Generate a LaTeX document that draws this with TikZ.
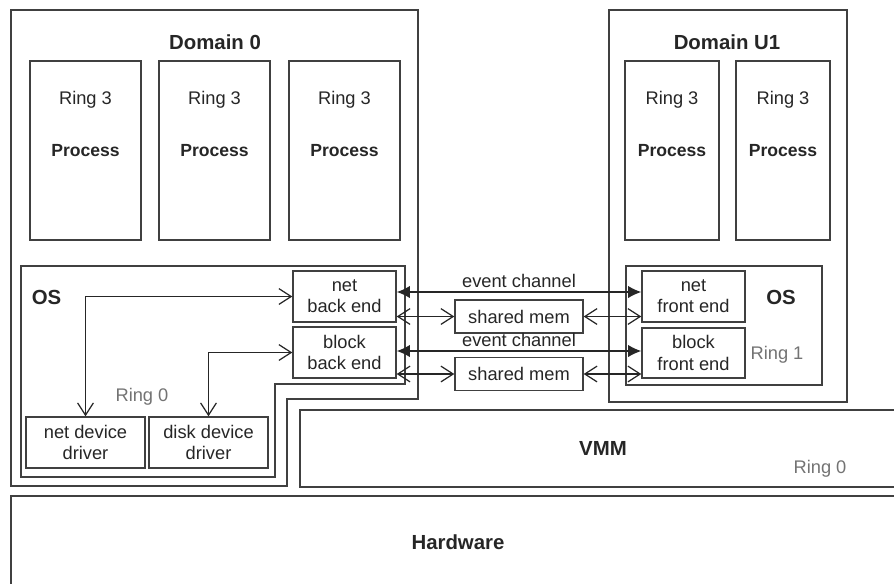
\documentclass[tikz,border=0pt]{standalone}
\usepackage{fontspec}
\setmainfont{Liberation Sans}
\usetikzlibrary{arrows.meta}

\tikzset{
  frame/.style={draw=black!75, line width=0.8pt},
  wh/.style 2 args={minimum width=#1*0.02cm, minimum height=#2*0.02cm},
  txt/.style={font=\fontsize{10.4}{12}\selectfont, text=black!85},
  box/.style={frame, txt, align=center, inner sep=0pt},
  heading/.style={font=\fontsize{11.6}{13}\selectfont\bfseries, text=black!85},
  procname/.style={font=\fontsize{10}{12}\selectfont\bfseries, text=black!85},
  ringgray/.style={font=\fontsize{10.4}{12}\selectfont, text=black!55},
  barb/.style={draw=black!85, line width=0.7pt,
    {Straight Barb[length=7pt,width=9pt]}-{Straight Barb[length=7pt,width=9pt]}},
  evarrow/.style={draw=black!85, line width=0.7pt,
    {Latex[length=7.5pt,width=7pt]}-{Latex[length=7.5pt,width=7pt]}},
}

\begin{document}
\begin{tikzpicture}[x=0.02cm, y=-0.02cm]
  \useasboundingbox (0,0) rectangle (894,583);
  \clip (0,0) rectangle (894,583);

  \draw[frame] (11,10) -- (418,10) -- (418,399) -- (287,399) -- (287,486) -- (11,486) -- cycle;
  \draw[frame] (21,266) -- (405,266) -- (405,384) -- (275,384) -- (275,477) -- (21,477) -- cycle;
  \draw[frame] (609,10) rectangle (847,402);
  \draw[frame] (626,266) rectangle (822,385);

  \node[heading] (dom0) at (215,42) {Domain 0};
  \node[heading] (domu) at (727,42) {Domain U1};

  \foreach \cx/\w/\n in {85.5/111/pa, 214.5/111/pb, 344.5/111/pc, 672/94/pd, 783/94/pe} {
    \node[frame, wh={\w}{179}] (\n) at (\cx,150.5) {};
    \node[txt] at (\cx,100) {Ring 3};
    \node[procname] at (\cx,151) {Process};
  }

  \node[heading] (osa) at (46.5,297) {OS};
  \node[heading] (osb) at (781,297) {OS};
  \node[ringgray] (ringa) at (142,397) {Ring 0};
  \node[ringgray] (ringb) at (777,355) {Ring 1};

  \node[box, wh={103}{51}] (netbe) at (344.5,296.5) {net\\back end};
  \node[box, wh={103}{51}] (blockbe) at (344.5,352.5) {block\\back end};
  \node[box, wh={103}{51}] (netfe) at (693.5,296.5) {net\\front end};
  \node[box, wh={103}{50}] (blockfe) at (693.5,353) {block\\front end};
  \node[box, wh={128}{33}] (smemA) at (519,316.5) {shared mem};
  \node[box, wh={128}{33}] (smemB) at (519,374) {shared mem};
  \node[box, wh={119}{51}] (netdd) at (85.5,442.5) {net device\\driver};
  \node[box, wh={119}{51}] (diskdd) at (208.5,442.5) {disk device\\driver};

  \coordinate (evA) at (0,292);
  \coordinate (evB) at (0,351);

  \draw[evarrow] (netbe.east |- evA) -- node[txt, above, inner sep=2pt] (evlabA) {event channel} (netfe.west |- evA);
  \draw[evarrow] (blockbe.east |- evB) -- node[txt, above, inner sep=2pt] (evlabB) {event channel} (blockfe.west |- evB);
  \draw[barb] (netbe.east |- smemA) -- (smemA.west);
  \draw[barb] (smemA.east) -- (netfe.west |- smemA);
  \draw[barb] (blockbe.east |- smemB) -- (smemB.west);
  \draw[barb] (smemB.east) -- (blockfe.west |- smemB);
  \draw[barb] (netbe.west) -| (netdd.north);
  \draw[barb] (blockbe.west) -| (diskdd.north);

  \node[frame, heading, wh={606}{77}] (vmm) at (603,448.5) {VMM};
  \node[ringgray] (ringc) at (820,469) {Ring 0};
  \node[frame, heading, wh={894}{92}] (hw) at (458,542) {Hardware};
\end{tikzpicture}
\end{document}
